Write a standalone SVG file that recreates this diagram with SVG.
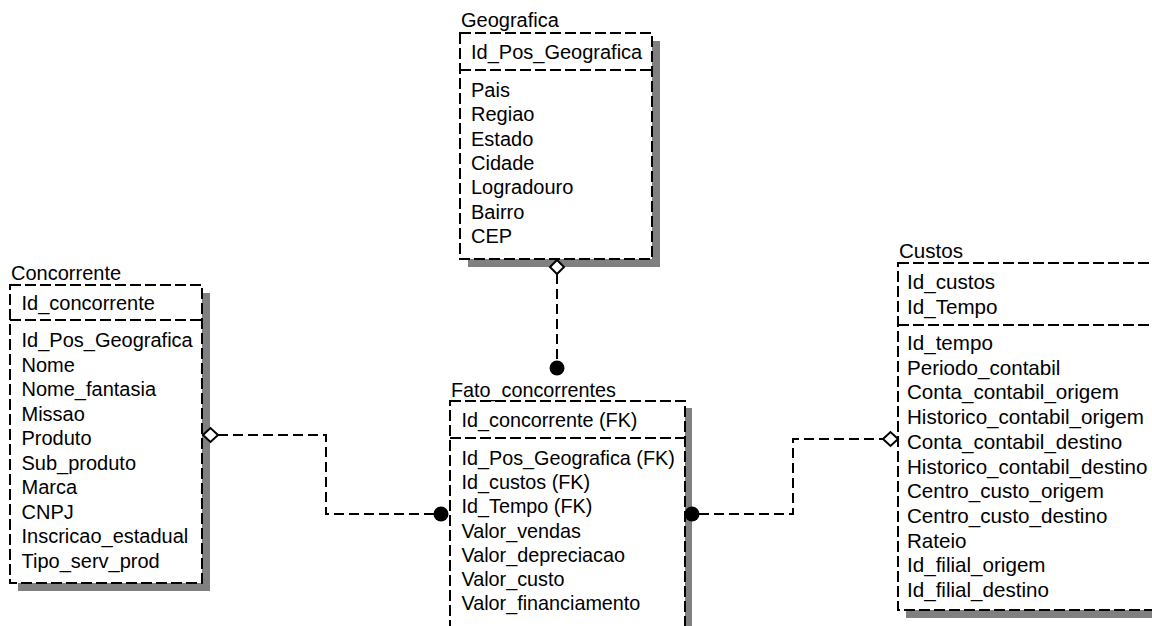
<svg xmlns="http://www.w3.org/2000/svg" width="1152" height="626" viewBox="0 0 1152 626">
  <style>
    .shadow { fill: #808080; stroke: none; }
    .box { fill: #ffffff; stroke: #000000; stroke-width: 2; stroke-dasharray: 11 4; }
    .div { stroke: #000000; stroke-width: 2; stroke-dasharray: 11 4; fill: none; }
    .t { font-family: "Liberation Sans", Arial, sans-serif; font-size: 20px; fill: #000000; }
    #fato_concorrentes .t { font-size: 19.8px; }
    #custos .t { font-size: 20.6px; }
    .conn { fill: none; stroke: #000000; stroke-width: 2; stroke-dasharray: 10 5; }
    .dia { fill: #ffffff; stroke: #000000; stroke-width: 2; }
    .dot { fill: #000000; }
  </style>
  <rect width="1152" height="626" fill="#ffffff"/>

  <!-- Geografica -->
  <g id="geografica">
    <rect class="shadow" x="468" y="41" width="192" height="226"/>
    <rect class="box" x="460" y="33" width="192" height="226"/>
    <line class="div" x1="460" y1="70" x2="652" y2="70"/>
    <text class="t" x="461" y="27">Geografica</text>
    <text class="t" x="471" y="59">Id_Pos_Geografica</text>
    <text class="t" x="471" y="97">Pais</text>
    <text class="t" x="471" y="121.3">Regiao</text>
    <text class="t" x="471" y="145.6">Estado</text>
    <text class="t" x="471" y="170">Cidade</text>
    <text class="t" x="471" y="194.2">Logradouro</text>
    <text class="t" x="471" y="218.5">Bairro</text>
    <text class="t" x="471" y="243">CEP</text>
  </g>

  <!-- Concorrente -->
  <g id="concorrente">
    <rect class="shadow" x="18" y="293" width="192" height="298"/>
    <rect class="box" x="10" y="285" width="192" height="298"/>
    <line class="div" x1="10" y1="320" x2="202" y2="320"/>
    <text class="t" x="11" y="280">Concorrente</text>
    <text class="t" x="21.5" y="310">Id_concorrente</text>
    <text class="t" x="21.5" y="347">Id_Pos_Geografica</text>
    <text class="t" x="21.5" y="371.5">Nome</text>
    <text class="t" x="21.5" y="396">Nome_fantasia</text>
    <text class="t" x="21.5" y="420.5">Missao</text>
    <text class="t" x="21.5" y="445">Produto</text>
    <text class="t" x="21.5" y="469.5">Sub_produto</text>
    <text class="t" x="21.5" y="494">Marca</text>
    <text class="t" x="21.5" y="518.5">CNPJ</text>
    <text class="t" x="21.5" y="543">Inscricao_estadual</text>
    <text class="t" x="21.5" y="567.5">Tipo_serv_prod</text>
  </g>

  <!-- Fato_concorrentes -->
  <g id="fato_concorrentes">
    <rect class="shadow" x="457" y="408" width="235" height="240"/>
    <rect class="box" x="450" y="401" width="235" height="240"/>
    <line class="div" x1="450" y1="438" x2="685" y2="438"/>
    <text class="t" x="451" y="397">Fato_concorrentes</text>
    <text class="t" x="461.5" y="427">Id_concorrente (FK)</text>
    <text class="t" x="461.5" y="465">Id_Pos_Geografica (FK)</text>
    <text class="t" x="461.5" y="489.2">Id_custos (FK)</text>
    <text class="t" x="461.5" y="513.4">Id_Tempo (FK)</text>
    <text class="t" x="461.5" y="537.6">Valor_vendas</text>
    <text class="t" x="461.5" y="561.8">Valor_depreciacao</text>
    <text class="t" x="461.5" y="586">Valor_custo</text>
    <text class="t" x="461.5" y="610.2">Valor_financiamento</text>
  </g>

  <!-- Custos -->
  <g id="custos">
    <rect class="shadow" x="906" y="271" width="270" height="347"/>
    <rect class="box" x="898" y="263" width="270" height="347"/>
    <line class="div" x1="898" y1="325" x2="1168" y2="325"/>
    <text class="t" x="899" y="258">Custos</text>
    <text class="t" x="907" y="289.3">Id_custos</text>
    <text class="t" x="907" y="314">Id_Tempo</text>
    <text class="t" x="907" y="350">Id_tempo</text>
    <text class="t" x="907" y="374.7">Periodo_contabil</text>
    <text class="t" x="907" y="399.4">Conta_contabil_origem</text>
    <text class="t" x="907" y="424.1">Historico_contabil_origem</text>
    <text class="t" x="907" y="448.8">Conta_contabil_destino</text>
    <text class="t" x="907" y="473.5">Historico_contabil_destino</text>
    <text class="t" x="907" y="498.2">Centro_custo_origem</text>
    <text class="t" x="907" y="522.9">Centro_custo_destino</text>
    <text class="t" x="907" y="547.6">Rateio</text>
    <text class="t" x="907" y="572.3">Id_filial_origem</text>
    <text class="t" x="907" y="597">Id_filial_destino</text>
  </g>

  <!-- Relationships -->
  <g id="connectors">
    <!-- Geografica to Fato_concorrentes -->
    <line class="conn" x1="557" y1="274" x2="557" y2="361"/>
    <polygon class="dia" points="557,260 564,267 557,274 550,267"/>
    <circle class="dot" cx="557" cy="368" r="7.5"/>

    <!-- Concorrente to Fato_concorrentes -->
    <polyline class="conn" points="218,435 326,435 326,514 434,514"/>
    <polygon class="dia" points="203,435 210.5,428 218,435 210.5,442"/>
    <circle class="dot" cx="441" cy="514" r="7.5"/>

    <!-- Fato_concorrentes to Custos -->
    <polyline class="conn" points="699,514 793,514 793,439 883,439"/>
    <polygon class="dia" points="883,439 890.5,432 898,439 890.5,446"/>
    <circle class="dot" cx="692" cy="514" r="7.5"/>
  </g>
</svg>
